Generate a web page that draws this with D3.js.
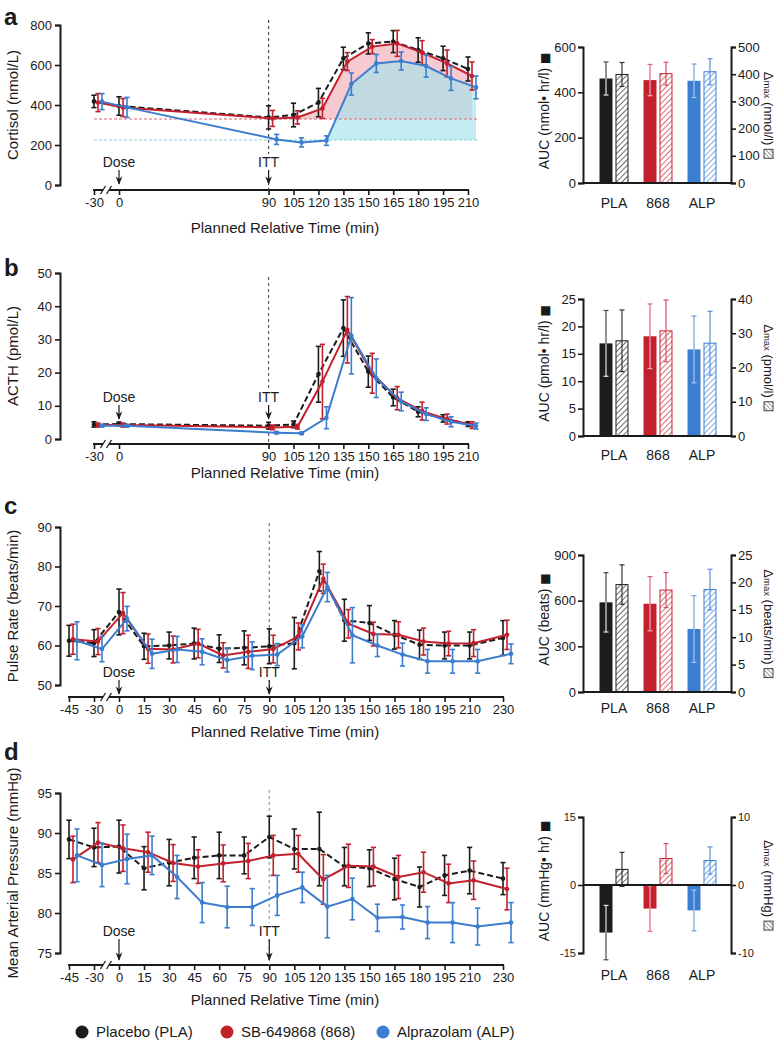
<!DOCTYPE html>
<html>
<head>
<meta charset="utf-8">
<script src="https://cdn.jsdelivr.net/npm/d3@7"></script>
<style>
  html,body{margin:0;padding:0;background:#fff;}
  svg text{font-family:"Liberation Sans",Arial,Helvetica,sans-serif;fill:#1a1a1a;}
</style>
</head>
<body>
<svg id="fig" width="777" height="1044"></svg>
<script>
// ================= DATA =================
const groups = ["PLA", "868", "ALP"];
const legendLabels = ["Placebo (PLA)", "SB-649868 (868)", "Alprazolam (ALP)"];

const timesHormone = [-30, 0, 90, 105, 120, 135, 150, 165, 180, 195, 210];
const timesVital = [-45, -30, 0, 15, 30, 45, 60, 75, 90, 105, 120, 135, 150, 165, 180, 195, 210, 230];

// Cortisol (nmol/L)
const cortisolPLA    = [418, 395, 338, 350, 412, 633, 708, 717, 675, 633, 580];
const cortisolPLAErr = [31, 46, 58, 59, 71, 56, 53, 55, 61, 61, 60];
const cortisol868    = [412, 387, 333, 338, 383, 617, 692, 708, 662, 608, 545];
const cortisol868Err = [45, 45, 40, 33, 50, 45, 35, 65, 60, 67, 70];
const cortisolALP    = [417, 388, 228, 213, 222, 505, 608, 620, 595, 533, 488];
const cortisolALPErr = [40, 50, 25, 23, 24, 55, 45, 45, 55, 60, 57];
const cortisolBase868 = 330;
const cortisolBaseALP = 225;

// ACTH (pmol/L)
const acthPLA    = [4.4, 4.5, 4.0, 4.4, 19.5, 33.4, 20.3, 12.5, 8.2, 6.2, 4.5];
const acthPLAErr = [0.8, 0.6, 1.0, 1.0, 8.4, 8.5, 4.7, 2.5, 1.5, 1.1, 0.7];
const acth868    = [4.2, 4.2, 3.5, 3.7, 17.3, 32.9, 19.8, 12.3, 8.4, 6.0, 4.2];
const acth868Err = [0.6, 0.6, 0.7, 0.7, 11.2, 10.0, 6.0, 3.5, 2.7, 1.5, 1.0];
const acthALP    = [4.0, 4.0, 1.9, 1.7, 6.4, 31.1, 18.3, 11.3, 7.5, 5.2, 3.9];
const acthALPErr = [0.4, 0.4, 0.3, 0.3, 3.3, 11.5, 5.8, 2.8, 1.9, 1.5, 0.9];

// Pulse rate (beats/min)
const pulsePLA    = [61.2, 60.6, 68.5, 59.8, 60.0, 60.5, 59.2, 59.4, 59.8, 60.6, 78.8, 66.4, 65.7, 62.7, 60.2, 60.0, 60.0, 61.9];
const pulsePLAErr = [3.9, 3.4, 5.8, 3.3, 3.4, 3.9, 3.5, 4.3, 4.4, 6.5, 5.0, 5.3, 4.4, 3.6, 3.7, 3.4, 3.4, 4.4];
const pulse868    = [61.6, 61.0, 68.2, 59.2, 59.0, 60.5, 57.5, 58.4, 59.1, 62.3, 76.9, 65.5, 62.9, 62.7, 61.0, 60.5, 60.6, 62.7];
const pulse868Err = [3.8, 3.3, 5.2, 3.7, 3.4, 3.6, 3.2, 4.2, 3.5, 3.4, 3.7, 3.6, 3.0, 3.3, 3.4, 3.1, 3.4, 3.7];
const pulseALP    = [61.2, 59.1, 66.8, 57.9, 59.0, 58.4, 56.3, 57.4, 57.7, 62.3, 74.8, 62.6, 60.0, 57.7, 56.0, 56.0, 56.0, 57.9];
const pulseALPErr = [4.8, 3.2, 3.1, 3.7, 3.3, 3.3, 3.0, 3.5, 2.8, 2.9, 3.7, 7.0, 2.8, 2.9, 3.0, 3.0, 3.0, 2.5];

// Mean arterial pressure (mmHg)
const mapPLA    = [89.2, 88.2, 88.3, 85.6, 86.3, 86.9, 87.2, 87.2, 89.5, 88.0, 88.0, 85.8, 85.6, 84.25, 83.25, 84.7, 85.3, 84.3];
const mapPLAErr = [2.4, 2.4, 3.3, 2.7, 2.9, 2.6, 2.9, 2.3, 2.6, 2.5, 4.6, 2.4, 2.3, 2.6, 2.5, 2.5, 2.9, 2.0];
const map868    = [86.7, 88.8, 88.1, 87.6, 86.25, 85.8, 86.2, 86.5, 87.2, 87.4, 84.2, 85.9, 85.8, 84.5, 85.1, 83.7, 84.1, 83.0];
const map868Err = [2.9, 2.5, 2.9, 2.5, 2.3, 2.1, 2.3, 2.2, 2.5, 2.3, 3.1, 2.7, 2.4, 2.7, 2.5, 2.4, 2.4, 2.6];
const mapALP    = [87.2, 86.0, 86.75, 87.2, 84.5, 81.3, 80.75, 80.75, 82.2, 83.2, 80.8, 81.75, 79.4, 79.5, 78.8, 78.8, 78.3, 78.8];
const mapALPErr = [3.3, 2.7, 3.1, 2.4, 2.7, 2.5, 2.6, 2.3, 2.5, 1.9, 3.9, 2.6, 1.7, 1.5, 2.0, 2.5, 2.3, 2.5];

// Tick values
const cortisolTicks = [0, 200, 400, 600, 800];
const acthTicks = [0, 10, 20, 30, 40, 50];
const pulseTicks = [50, 60, 70, 80, 90];
const mapTicks = [75, 80, 85, 90, 95];

// Bar summaries (AUC solid, Δmax hatched) — order PLA, 868, ALP
const cortisolAUC = [461, 454, 451],  cortisolAUCErr = [73, 69, 74];
const cortisolDmax = [399, 402, 409], cortisolDmaxErr = [44, 42, 48];
const acthAUC = [16.9, 18.2, 15.8],   acthAUCErr = [6.0, 5.9, 6.1];
const acthDmax = [27.8, 30.7, 27.1],  acthDmaxErr = [9.0, 9.0, 9.3];
const pulseAUC = [589, 580, 414],     pulseAUCErr = [195, 178, 219];
const pulseDmax = [19.6, 18.6, 18.7], pulseDmaxErr = [3.6, 3.2, 3.7];
const mapAUC = [-10.5, -5.2, -5.6],   mapAUCErr = [6.0, 5.0, 4.5];
const mapDmax = [2.3, 3.9, 3.6],      mapDmaxErr = [2.5, 2.2, 2.0];

const cortisolAUCTicks = [0, 200, 400, 600], cortisolDmaxTicks = [0, 100, 200, 300, 400, 500];
const acthAUCTicks = [0, 5, 10, 15, 20, 25], acthDmaxTicks = [0, 10, 20, 30, 40];
const pulseAUCTicks = [0, 300, 600, 900],    pulseDmaxTicks = [0, 5, 10, 15, 20, 25];
const mapAUCTicks = [-15, 0, 15],            mapDmaxTicks = [-10, 0, 10];

// ================= STYLE =================
const colors = ["#1c1c1c", "#c3202e", "#3b7dcf"];
const innerErr = ["#e4e4e4", "#f2a9b3", "#a9c8f0"];
const outerErr = ["#4a4a4a", "#d66c7a", "#6fa0e2"];
const hatchErr = ["#333333", "#d2505f", "#5a90da"];
const dashes = ["6,3", null, null];
const dodge = [0, 4, 8];
const TXT = "#1a1a1a";

const svg = d3.select("#fig");
const defs = svg.append("defs");
defs.append("marker").attr("id", "arr").attr("viewBox", "0 0 10 10")
  .attr("refX", 9).attr("refY", 5).attr("markerWidth", 7).attr("markerHeight", 7)
  .attr("orient", "auto").append("path").attr("d", "M0,1 L10,5 L0,9 L3,5 z").attr("fill", TXT);
colors.forEach((c, i) => {
  const p = defs.append("pattern").attr("id", "hatch" + i).attr("patternUnits", "userSpaceOnUse")
    .attr("width", 4).attr("height", 4).attr("patternTransform", "rotate(45)");
  p.append("rect").attr("width", 4).attr("height", 4).attr("fill", "#fff");
  p.append("line").attr("x1", 0).attr("y1", 0).attr("x2", 0).attr("y2", 4)
    .attr("stroke", c).attr("stroke-width", 1.3);
});
{
  const p = defs.append("pattern").attr("id", "hatchIcon").attr("patternUnits", "userSpaceOnUse")
    .attr("width", 3).attr("height", 3).attr("patternTransform", "rotate(-45)");
  p.append("rect").attr("width", 3).attr("height", 3).attr("fill", "#fff");
  p.append("line").attr("x1", 0).attr("y1", 0).attr("x2", 0).attr("y2", 3)
    .attr("stroke", "#333").attr("stroke-width", 1);
}

function styleAxis(sel, fs) {
  sel.select(".domain").attr("stroke", TXT).attr("stroke-width", 2);
  sel.selectAll(".tick line").attr("stroke", TXT).attr("stroke-width", 1.6);
  sel.selectAll(".tick text").attr("font-size", fs).attr("fill", TXT);
}

const xHormone = d3.scaleLinear().domain([-30, 0, 210]).range([94, 119, 468]);
const xVital = d3.scaleLinear().domain([-45, -30, 0, 230]).range([69, 94, 119, 503]);

function annot(g, x, textY, arrowEnd, label) {
  const t = g.append("text").attr("x", x).attr("y", textY).attr("text-anchor", "middle")
    .attr("font-size", 14).text(label);
  const bb = t.node().getBBox();
  g.insert("rect", () => t.node()).attr("x", bb.x - 1).attr("y", bb.y).attr("width", bb.width + 2)
    .attr("height", bb.height).attr("fill", "#fff");
  g.append("line").attr("x1", x).attr("x2", x).attr("y1", textY + 3).attr("y2", arrowEnd)
    .attr("stroke", TXT).attr("stroke-width", 1.2).attr("marker-end", "url(#arr)");
}

function linePanel(o) {
  const g = svg.append("g");
  const x = o.x;
  const y = d3.scaleLinear().domain([o.yTicks[0], o.yTicks[o.yTicks.length - 1]]).range([o.yBottom, o.yTop]);

  g.append("text").attr("x", 4).attr("y", o.letterY).attr("font-size", 24)
    .attr("font-weight", "bold").text(o.letter);
  g.append("text").attr("transform", `translate(18,${(o.yTop + o.yBottom) / 2}) rotate(-90)`)
    .attr("text-anchor", "middle").attr("font-size", 15).text(o.yTitle);

  const ya = g.append("g").attr("transform", "translate(60,0)")
    .call(d3.axisLeft(y).tickValues(o.yTicks).tickSize(5).tickPadding(3).tickFormat(d => String(d)));
  styleAxis(ya, 13);

  const xa = g.append("g").attr("transform", `translate(0,${o.axisY})`)
    .call(d3.axisBottom(x).tickValues(o.xTicks).tickSize(5).tickPadding(3).tickFormat(d => String(d)));
  styleAxis(xa, 13);
  xa.select(".domain").remove();
  const brk = 106;
  const x0 = x(o.xTicks[0]) - 1, x1 = x(o.xTicks[o.xTicks.length - 1]) + 1;
  g.append("line").attr("x1", x0).attr("x2", brk - 3).attr("y1", o.axisY).attr("y2", o.axisY)
    .attr("stroke", TXT).attr("stroke-width", 2);
  g.append("line").attr("x1", brk + 3).attr("x2", x1).attr("y1", o.axisY).attr("y2", o.axisY)
    .attr("stroke", TXT).attr("stroke-width", 2);
  [-3, 3].forEach(d => g.append("line")
    .attr("x1", brk + d - 2.5).attr("y1", o.axisY + 4).attr("x2", brk + d + 2.5).attr("y2", o.axisY - 4)
    .attr("stroke", TXT).attr("stroke-width", 1.3));
  g.append("text").attr("x", 285).attr("y", o.titleY).attr("text-anchor", "middle")
    .attr("font-size", 15).text("Planned Relative Time (min)");

  // shaded areas (cortisol)
  if (o.fills) {
    o.fills.forEach((f, k) => {
      const s = o.series[f.idx];
      const pts = o.times.map((t, j) => ({ t, v: s.v[j] })).filter(d => d.t >= 90);
      const cid = "clip" + o.letter + k;
      defs.append("clipPath").attr("id", cid).append("rect")
        .attr("x", 0).attr("y", 0).attr("width", 777).attr("height", y(f.base));
      g.append("path").datum(pts).attr("clip-path", `url(#${cid})`)
        .attr("d", d3.area().x(d => x(d.t) + dodge[f.idx]).y0(y(f.base)).y1(d => y(d.v)))
        .attr("fill", f.fill).attr("fill-opacity", f.op);
    });
    o.fills.forEach(f => {
      g.append("line").attr("x1", x(o.times[0])).attr("x2", x(o.times[o.times.length - 1]) + 9)
        .attr("y1", y(f.base)).attr("y2", y(f.base)).attr("stroke", f.line)
        .attr("stroke-width", 1).attr("stroke-dasharray", "3,2");
    });
  }

  g.append("line").attr("x1", x(90)).attr("x2", x(90)).attr("y1", o.ittTop).attr("y2", o.axisY)
    .attr("stroke", o.ittColor).attr("stroke-width", 1.1).attr("stroke-dasharray", "3,3");
  annot(g, x(0), o.annY, o.arrowEnd, "Dose");
  annot(g, x(90), o.annY, o.arrowEnd, "ITT");

  o.series.forEach((s, i) => {
    const pts = o.times.map((t, j) => ({ t, v: s.v[j], e: s.e[j] }));
    const gx = d => x(d.t) + dodge[i];
    const sg = g.append("g");
    sg.append("path").datum(pts)
      .attr("d", d3.line().x(gx).y(d => y(d.v)))
      .attr("fill", "none").attr("stroke", colors[i]).attr("stroke-width", 2)
      .attr("stroke-dasharray", dashes[i]);
    const eb = sg.selectAll(".eb").data(pts).enter().append("g");
    eb.append("line").attr("x1", gx).attr("x2", gx)
      .attr("y1", d => y(d.v - d.e)).attr("y2", d => y(d.v + d.e))
      .attr("stroke", colors[i]).attr("stroke-width", 1.6);
    [-1, 1].forEach(sgn => eb.append("line")
      .attr("x1", d => gx(d) - 2.6).attr("x2", d => gx(d) + 2.6)
      .attr("y1", d => y(d.v + sgn * d.e)).attr("y2", d => y(d.v + sgn * d.e))
      .attr("stroke", colors[i]).attr("stroke-width", 1.6));
    eb.append("circle").attr("cx", gx).attr("cy", d => y(d.v)).attr("r", 2.3).attr("fill", colors[i]);
  });
}

function barErr(g, cx, yS, v, e, cin, cout) {
  const sgn = v >= 0 ? 1 : -1;
  const outer = v + sgn * e, inner = v - sgn * e;
  g.append("line").attr("x1", cx).attr("x2", cx).attr("y1", yS(v)).attr("y2", yS(inner))
    .attr("stroke", cin).attr("stroke-width", 1.2);
  g.append("line").attr("x1", cx - 2.5).attr("x2", cx + 2.5).attr("y1", yS(inner)).attr("y2", yS(inner))
    .attr("stroke", cin).attr("stroke-width", 1.2);
  g.append("line").attr("x1", cx).attr("x2", cx).attr("y1", yS(v)).attr("y2", yS(outer))
    .attr("stroke", cout).attr("stroke-width", 1.2);
  g.append("line").attr("x1", cx - 2.5).attr("x2", cx + 2.5).attr("y1", yS(outer)).attr("y2", yS(outer))
    .attr("stroke", cout).attr("stroke-width", 1.2);
}

function barPanel(o) {
  const g = svg.append("g");
  const yL = d3.scaleLinear().domain([o.lTicks[0], o.lTicks[o.lTicks.length - 1]]).range([o.yBottom, o.yTop]);
  const yR = d3.scaleLinear().domain([o.rTicks[0], o.rTicks[o.rTicks.length - 1]]).range([o.yBottom, o.yTop]);
  const xg = d3.scaleBand().domain(groups).range([592, 724]);
  const xm = d3.scaleBand().domain(["auc", "dmax"]).range([0, xg.bandwidth()])
    .paddingInner(0.1875).paddingOuter(0.47);
  const fs = o.tickFont || 13;

  const la = g.append("g").attr("transform", "translate(583,0)")
    .call(d3.axisLeft(yL).tickValues(o.lTicks).tickSize(5).tickPadding(2).tickFormat(d => String(d)));
  styleAxis(la, fs);
  const ra = g.append("g").attr("transform", "translate(731,0)")
    .call(d3.axisRight(yR).tickValues(o.rTicks).tickSize(5).tickPadding(2).tickFormat(d => String(d)));
  styleAxis(ra, fs);

  groups.forEach((gr, i) => {
    const bw = xm.bandwidth();
    const ax = xg(gr) + xm("auc");
    g.append("rect").attr("x", ax).attr("width", bw)
      .attr("y", Math.min(yL(o.auc[i]), yL(0))).attr("height", Math.abs(yL(o.auc[i]) - yL(0)))
      .attr("fill", colors[i]);
    barErr(g, ax + bw / 2, yL, o.auc[i], o.aucErr[i], innerErr[i], outerErr[i]);
    const hx = xg(gr) + xm("dmax");
    g.append("rect").attr("x", hx + 0.5).attr("width", bw - 1)
      .attr("y", Math.min(yR(o.dmax[i]), yR(0))).attr("height", Math.abs(yR(o.dmax[i]) - yR(0)))
      .attr("fill", `url(#hatch${i})`).attr("stroke", colors[i]).attr("stroke-width", 1);
    barErr(g, hx + bw / 2, yR, o.dmax[i], o.dmaxErr[i], hatchErr[i], hatchErr[i]);
    g.append("text").attr("x", xg(gr) + xg.bandwidth() / 2).attr("y", o.labelY)
      .attr("text-anchor", "middle").attr("font-size", 14).text(gr);
  });
  g.append("line").attr("x1", 583).attr("x2", 731).attr("y1", yL(0)).attr("y2", yL(0))
    .attr("stroke", TXT).attr("stroke-width", 2);

  const mid = (o.yTop + o.yBottom) / 2;
  const lt = g.append("text").attr("transform", `translate(549,${mid - 4}) rotate(-90)`)
    .attr("text-anchor", "middle").attr("font-size", 14);
  lt.append("tspan").text(o.aucLabel + " ");
  lt.append("tspan").attr("font-family", "DejaVu Sans").attr("font-size", 12).text("■");

  // right label: Δmax (unit) + hatched square icon
  const rx = 764;
  const rt = g.append("text").attr("font-size", 13).attr("text-anchor", "start");
  rt.append("tspan").text("Δ");
  rt.append("tspan").attr("font-size", 9.5).text("max");
  rt.append("tspan").text(" " + o.dmaxLabel);
  const L = rt.node().getComputedTextLength();
  const icon = 9, gap = 4;
  const start = mid - (L + gap + icon) / 2;
  rt.attr("transform", `translate(${rx},${start}) rotate(90)`);
  g.append("rect").attr("x", rx).attr("y", start + L + gap).attr("width", icon).attr("height", icon)
    .attr("fill", "url(#hatchIcon)").attr("stroke", "#333").attr("stroke-width", 0.9);
}

function mk(v, e) { return { v, e }; }

// ===== Panel a =====
linePanel({
  letter: "a", letterY: 25, x: xHormone, times: timesHormone, xTicks: timesHormone,
  yTicks: cortisolTicks, yTop: 25, yBottom: 185, axisY: 190, titleY: 233,
  yTitle: "Cortisol (nmol/L)", ittTop: 20, ittColor: "#444", annY: 167, arrowEnd: 184,
  series: [mk(cortisolPLA, cortisolPLAErr), mk(cortisol868, cortisol868Err), mk(cortisolALP, cortisolALPErr)],
  fills: [
    { idx: 1, base: cortisolBase868, fill: "#f3b3bd", op: 0.7, line: "#e0606e" },
    { idx: 2, base: cortisolBaseALP, fill: "#9fe2e8", op: 0.62, line: "#80d2dc" }
  ]
});
barPanel({
  yTop: 47, yBottom: 183, labelY: 208, lTicks: cortisolAUCTicks, rTicks: cortisolDmaxTicks,
  auc: cortisolAUC, aucErr: cortisolAUCErr, dmax: cortisolDmax, dmaxErr: cortisolDmaxErr,
  aucLabel: "AUC (nmol• hr/l)", dmaxLabel: "(nmol/l)"
});

// ===== Panel b =====
linePanel({
  letter: "b", letterY: 276, x: xHormone, times: timesHormone, xTicks: timesHormone,
  yTicks: acthTicks, yTop: 273, yBottom: 439, axisY: 444, titleY: 478,
  yTitle: "ACTH (pmol/L)", ittTop: 277, ittColor: "#555", annY: 402, arrowEnd: 419,
  series: [mk(acthPLA, acthPLAErr), mk(acth868, acth868Err), mk(acthALP, acthALPErr)]
});
barPanel({
  yTop: 299, yBottom: 436, labelY: 460, lTicks: acthAUCTicks, rTicks: acthDmaxTicks,
  auc: acthAUC, aucErr: acthAUCErr, dmax: acthDmax, dmaxErr: acthDmaxErr,
  aucLabel: "AUC (pmol• hr/l)", dmaxLabel: "(pmol/l)"
});

// ===== Panel c =====
linePanel({
  letter: "c", letterY: 514, x: xVital, times: timesVital, xTicks: timesVital,
  yTicks: pulseTicks, yTop: 527, yBottom: 685, axisY: 697, titleY: 737,
  yTitle: "Pulse Rate (beats/min)", ittTop: 523, ittColor: "#777", annY: 677, arrowEnd: 694,
  series: [mk(pulsePLA, pulsePLAErr), mk(pulse868, pulse868Err), mk(pulseALP, pulseALPErr)]
});
barPanel({
  yTop: 555, yBottom: 692, labelY: 713, lTicks: pulseAUCTicks, rTicks: pulseDmaxTicks,
  auc: pulseAUC, aucErr: pulseAUCErr, dmax: pulseDmax, dmaxErr: pulseDmaxErr,
  aucLabel: "AUC (beats)", dmaxLabel: "(beats/min)"
});

// ===== Panel d =====
linePanel({
  letter: "d", letterY: 760, x: xVital, times: timesVital, xTicks: timesVital,
  yTicks: mapTicks, yTop: 793, yBottom: 953, axisY: 965, titleY: 1005,
  yTitle: "Mean Arterial Pressure (mmHg)", ittTop: 790, ittColor: "#999", annY: 936, arrowEnd: 960,
  series: [mk(mapPLA, mapPLAErr), mk(map868, map868Err), mk(mapALP, mapALPErr)]
});
barPanel({
  yTop: 817, yBottom: 953, labelY: 980, lTicks: mapAUCTicks, rTicks: mapDmaxTicks, tickFont: 11,
  auc: mapAUC, aucErr: mapAUCErr, dmax: mapDmax, dmaxErr: mapDmaxErr,
  aucLabel: "AUC (mmHg• hr)", dmaxLabel: "(mmHg)"
});

// ===== Legend =====
const legX = [82, 227, 383];
const lg = svg.append("g");
legendLabels.forEach((l, i) => {
  lg.append("circle").attr("cx", legX[i]).attr("cy", 1032).attr("r", 6.5).attr("fill", colors[i]);
  lg.append("text").attr("x", legX[i] + 14).attr("y", 1037).attr("font-size", 15).text(l);
});
</script>
</body>
</html>
